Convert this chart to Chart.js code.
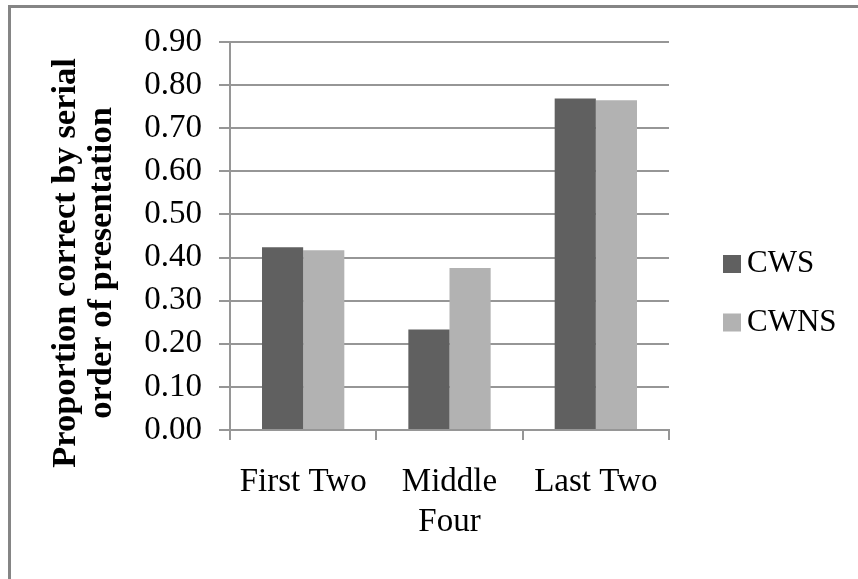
<!DOCTYPE html>
<html>
<head>
<meta charset="utf-8">
<script src="https://cdn.jsdelivr.net/npm/chart.js@4/dist/chart.umd.min.js"></script>
<style>
  html, body { margin: 0; padding: 0; background: #fff; overflow: hidden; }
  #wrap { position: relative; width: 858px; height: 579px; }
  #frame { position: absolute; left: 8px; top: 5px; width: 900px; height: 620px;
           border-top: 3px solid #858585; border-left: 3px solid #858585; box-sizing: border-box; }
  canvas { position: absolute; left: 0; top: 0; }
</style>
</head>
<body>
<div id="wrap">
  <div id="frame"></div>
  <canvas id="c" width="858" height="579"></canvas>
</div>
<script>
const categories = ['First Two', ['Middle', 'Four'], 'Last Two'];
const seriesNames = ['CWS', 'CWNS'];
const cwsValues = [0.424, 0.233, 0.769];
const cwnsValues = [0.417, 0.376, 0.765];
const yTicks = [0, 0.1, 0.2, 0.3, 0.4, 0.5, 0.6, 0.7, 0.8, 0.9];
const yTitleLines = ['Proportion correct by serial', 'order of presentation'];

const FONT = "'Liberation Serif', 'Times New Roman', serif";
const GRID = '#969696';

const yTitlePlugin = {
  id: 'yTitle',
  afterDraw(chart) {
    const ctx = chart.ctx;
    ctx.save();
    ctx.translate(66, 263);
    ctx.rotate(-Math.PI / 2);
    ctx.textAlign = 'center';
    ctx.textBaseline = 'middle';
    ctx.fillStyle = '#000';
    ctx.font = 'bold 34.5px ' + FONT;
    yTitleLines.forEach((line, i) => ctx.fillText(line, 0, i * 36));
    ctx.restore();
  }
};

const sideLegendPlugin = {
  id: 'sideLegend',
  afterDraw(chart) {
    const ctx = chart.ctx;
    ctx.save();
    ctx.font = '31px ' + FONT;
    ctx.textBaseline = 'middle';
    ctx.textAlign = 'left';
    chart.data.datasets.forEach((ds, i) => {
      const cy = 264 + i * 58.5;
      ctx.fillStyle = ds.backgroundColor;
      ctx.fillRect(723, cy - 9, 18, 18);
      ctx.fillStyle = '#000';
      ctx.fillText(ds.label, 747, cy);
    });
    ctx.restore();
  }
};

new Chart(document.getElementById('c'), {
  type: 'bar',
  data: {
    labels: categories,
    datasets: [
      { label: seriesNames[0], data: cwsValues, backgroundColor: '#606060', borderWidth: 0,
        categoryPercentage: 0.5625, barPercentage: 1.0 },
      { label: seriesNames[1], data: cwnsValues, backgroundColor: '#b2b2b2', borderWidth: 0,
        categoryPercentage: 0.5625, barPercentage: 1.0 }
    ]
  },
  options: {
    responsive: false,
    animation: false,
    devicePixelRatio: 1,
    layout: { padding: { top: 42, right: 189, bottom: 0, left: 0 } },
    plugins: {
      legend: { display: false },
      tooltip: { enabled: false },
      title: { display: false }
    },
    scales: {
      x: {
        offset: true,
        grid: { display: true, drawOnChartArea: false, drawTicks: true, tickLength: 10,
                color: GRID, lineWidth: 2, offset: true },
        border: { display: true, color: GRID, width: 2 },
        ticks: { color: '#000', padding: 22, font: { family: FONT, size: 33, lineHeight: 1.21 },
                 maxRotation: 0, autoSkip: false },
        afterFit(scale) { scale.height = 149; }
      },
      y: {
        min: 0,
        max: 0.9,
        afterBuildTicks(scale) { scale.ticks = yTicks.map(v => ({ value: v })); },
        grid: { color: GRID, lineWidth: 2, drawTicks: true, tickLength: 11 },
        border: { display: true, color: GRID, width: 2 },
        ticks: { color: '#000', padding: 17, font: { family: FONT, size: 33 },
                 callback: v => Number(v).toFixed(2) },
        afterFit(scale) { scale.width = 230; }
      }
    }
  },
  plugins: [yTitlePlugin, sideLegendPlugin]
});
</script>
</body>
</html>
